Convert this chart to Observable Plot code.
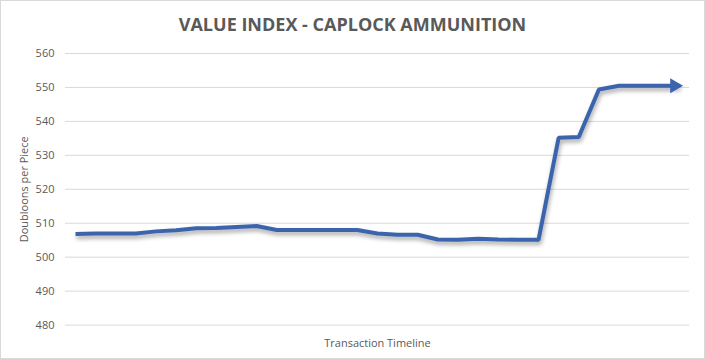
<!DOCTYPE html>
<html>
<head>
<meta charset="utf-8">
<script src="https://cdn.jsdelivr.net/npm/d3@7"></script>
<script src="https://cdn.jsdelivr.net/npm/@observablehq/plot@0.6"></script>
<style>
  html, body { margin: 0; padding: 0; background: #fff; }
  #chart {
    position: relative; width: 705px; height: 359px; box-sizing: border-box;
    border: 1px solid #d9d9d9; background: #fff; overflow: hidden;
  }
  #title {
    position: absolute; left: 0; top: 0; width: 703px; text-align: center;
    font-family: "Open Sans", sans-serif; font-weight: bold; font-size: 18px;
    color: #595959; line-height: 1; padding-top: 14px;
  }
  #plot { position: absolute; left: -1px; top: 38px; }
  g[aria-label="line"] path { filter: drop-shadow(1px 3px 2px rgba(0,0,0,0.35)); }
</style>
</head>
<body>
<div id="chart">
  <div id="title">VALUE INDEX - CAPLOCK AMMUNITION</div>
  <div id="plot"></div>
</div>
<script>
const titleText = "VALUE INDEX - CAPLOCK AMMUNITION";
const xLabel = "Transaction Timeline";
const yLabel = "Doubloons per Piece";
const yTicks = [480, 490, 500, 510, 520, 530, 540, 550, 560];
const values = [
  506.8, 507.0, 507.0, 507.0, 507.6, 507.9, 508.5, 508.6, 508.9, 509.2,
  508.0, 508.0, 508.0, 508.0, 508.0, 507.0, 506.6, 506.6, 505.2, 505.1,
  505.4, 505.2, 505.1, 505.1, 535.2, 535.4, 549.4, 550.5, 550.5, 550.5,
  550.5
];
const data = values.map((v, i) => ({i, v}));
const last = data[data.length - 1];

const blue = "#3b64ad";
const gray = "#595959";

const chart = Plot.plot({
  width: 705,
  height: 320,
  marginLeft: 65,
  marginRight: 15,
  marginTop: 14,
  marginBottom: 34,
  style: { fontFamily: "'Open Sans', sans-serif", fontSize: "11px", color: gray, background: "transparent" },
  x: { domain: [-0.5, values.length - 0.5], axis: null },
  y: { domain: [480, 560], ticks: yTicks, label: null, tickSize: 0, tickPadding: 12, grid: false },
  marks: [
    Plot.ruleY(yTicks, { stroke: "#d9d9d9", strokeWidth: 1 }),
    Plot.axisY({ ticks: yTicks, tickSize: 0, tickPadding: 11, label: null, fill: gray }),
    Plot.line(data, { x: "i", y: "v", stroke: blue, strokeWidth: 4, strokeLinejoin: "miter", strokeLinecap: "butt" }),
    Plot.dot([last], { x: "i", y: "v", symbol: "triangle", rotate: 90, r: 5.5, fill: blue, stroke: "none", dx: -5 }),
    Plot.text([xLabel], { frameAnchor: "bottom", dy: 14, fill: gray, fontSize: 11, lineAnchor: "top" }),
    Plot.text([yLabel], { frameAnchor: "left", textAnchor: "middle", dx: -41, rotate: -90, fill: gray, fontSize: 11 })
  ]
});
document.getElementById("plot").appendChild(chart);
</script>
</body>
</html>
